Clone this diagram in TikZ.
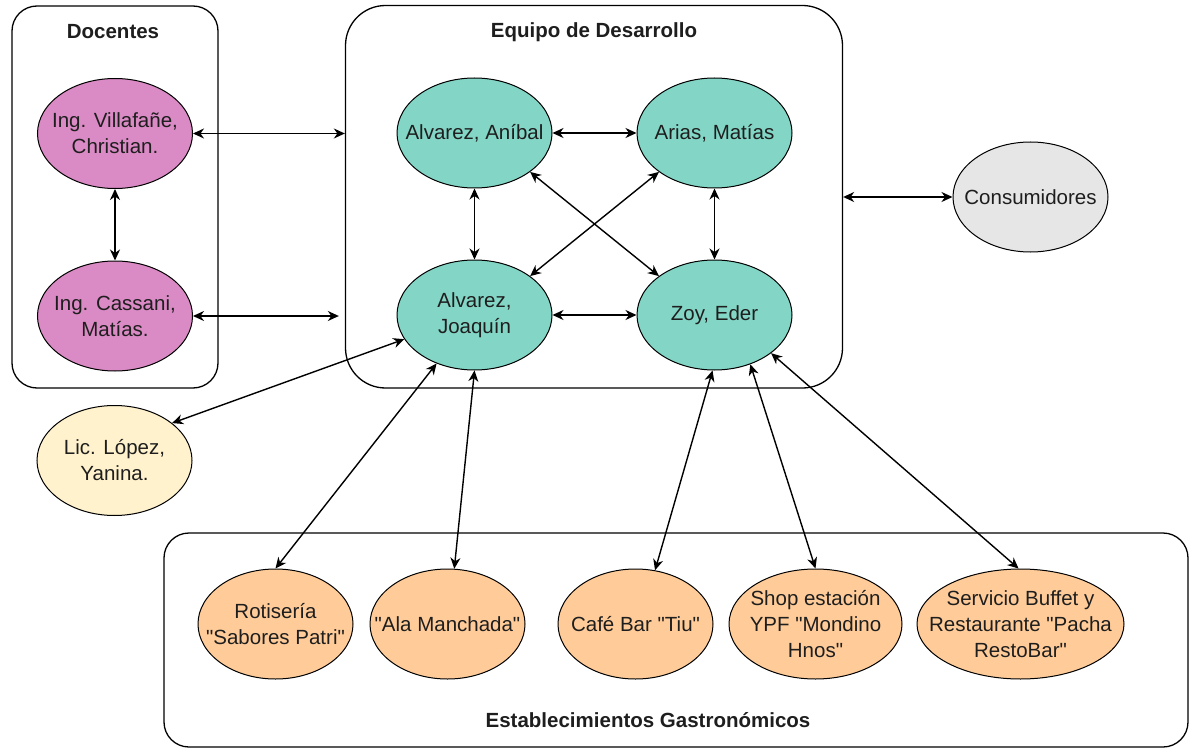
\documentclass[tikz,border=0pt]{standalone}
\usepackage{fontspec}
\setmainfont{Liberation Sans}[Ligatures=TeXOff]
\usetikzlibrary{shapes.geometric,arrows.meta,calc}

\definecolor{pinkfill}{HTML}{DA8AC4}
\definecolor{tealfill}{HTML}{83D6C6}
\definecolor{yellowfill}{HTML}{FFF2CC}
\definecolor{orangefill}{HTML}{FFCC99}
\definecolor{greyfill}{HTML}{E6E6E6}
\definecolor{inkcol}{HTML}{1E1E1E}

\tikzset{
  group/.style={draw=black, line width=1.3pt, rectangle, inner sep=0pt},
  grouptitle/.style={font=\bfseries\fontsize{20.5}{26}\selectfont, text=inkcol},
  lbl/.style={font=\fontsize{20.5}{26}\selectfont, align=center, text=inkcol, inner sep=0pt},
  actor/.style={ellipse, draw=black, line width=1pt, inner sep=0pt,
    minimum width=155pt, minimum height=110pt},
  says/.style={label={[lbl]center:{#1}}},
  conn/.style={<->, line width=1.4pt, draw=black,
    >={Stealth[length=11pt,width=10pt,inset=3.5pt]}},
}

\begin{document}
\begin{tikzpicture}[x=1pt,y=-1pt]
\useasboundingbox (0,0) rectangle (1192,749);

% ---- group frames
\node[group, rounded corners=25pt, minimum width=206pt, minimum height=382pt] (doc) at (115,197) {};
\node[group, rounded corners=40pt, minimum width=497pt, minimum height=382.5pt] (equipo) at (594,196.75) {};
\node[group, rounded corners=25pt, minimum width=1024pt, minimum height=214pt] (estab) at (676,640) {};

\node[grouptitle] (doctitle) at (113,32) {Docentes};
\node[grouptitle] (equipotitle) at (594,32) {Equipo de Desarrollo};
\node[grouptitle] (estabtitle) at (648,720) {Establecimientos Gastronómicos};

% ---- teachers
\node[actor, fill=pinkfill, says={Ing. Villafañe,\\Christian.}] (vill) at (115,133.5) {};
\node[actor, fill=pinkfill, says={Ing. Cassani,\\Matías.}] (cass) at (115,316) {};

% ---- development team
\node[actor, fill=tealfill, says={Alvarez, Aníbal}] (anib) at (474.5,133) {};
\node[actor, fill=tealfill, says={Arias, Matías}] (arias) at (714.5,133) {};
\node[actor, fill=tealfill, says={Alvarez,\\Joaquín}] (joaq) at (474.5,315) {};
\node[actor, fill=tealfill, says={Zoy, Eder}] (zoy) at (714.5,315) {};

% ---- others
\node[actor, fill=greyfill, says={Consumidores}] (cons) at (1030.5,197) {};
\node[actor, fill=yellowfill, says={Lic. López,\\Yanina.}] (lopez) at (114.5,460.5) {};

% ---- food businesses
\node[actor, fill=orangefill, says={Rotisería\\"Sabores Patri"}] (rot) at (275.5,624) {};
\node[actor, fill=orangefill, says={"Ala Manchada"}] (ala) at (447.5,624) {};
\node[actor, fill=orangefill, says={Café Bar "Tiu"}] (cafe) at (635.5,624) {};
\node[actor, fill=orangefill, minimum width=173pt, says={Shop estación\\YPF "Mondino\\Hnos"}] (shop) at (815.5,624) {};
\node[actor, fill=orangefill, minimum width=207pt, says={Servicio Buffet y\\Restaurante "Pacha\\RestoBar"}] (serv) at (1020.5,624) {};

% ---- connectors
\draw[conn] (vill.east) -- (vill.east -| equipo.west);
\draw[conn] (cass.east) -- ($(cass.east -| equipo.west)+(-6,0)$);
\draw[conn] (vill.south) -- (cass.north);

\draw[conn] (anib.east) -- (arias.west);
\draw[conn] (anib.south) -- (joaq.north);
\draw[conn] (arias.south) -- (zoy.north);
\draw[conn] (anib.-35) -- (zoy.145);
\draw[conn] (arias.-145) -- (joaq.35);
\draw[black!75, line width=2.6pt, shorten <=9pt, shorten >=9pt] (joaq.east) -- (zoy.west);
\draw[conn] (joaq.east) -- (zoy.west);

\draw[conn] (equipo.east |- cons.west) -- (cons.west);
\draw[conn] (joaq.-161) -- (lopez.33);

\draw[conn] (joaq.-128) -- (rot.north);
\draw[conn] (joaq.south) -- (ala.83);
\draw[conn] (zoy.-92) -- (cafe.70);
\draw[conn] (zoy.-54) -- (shop.north);
\draw[conn] (zoy.-34) -- (serv.92);
\end{tikzpicture}
\end{document}
